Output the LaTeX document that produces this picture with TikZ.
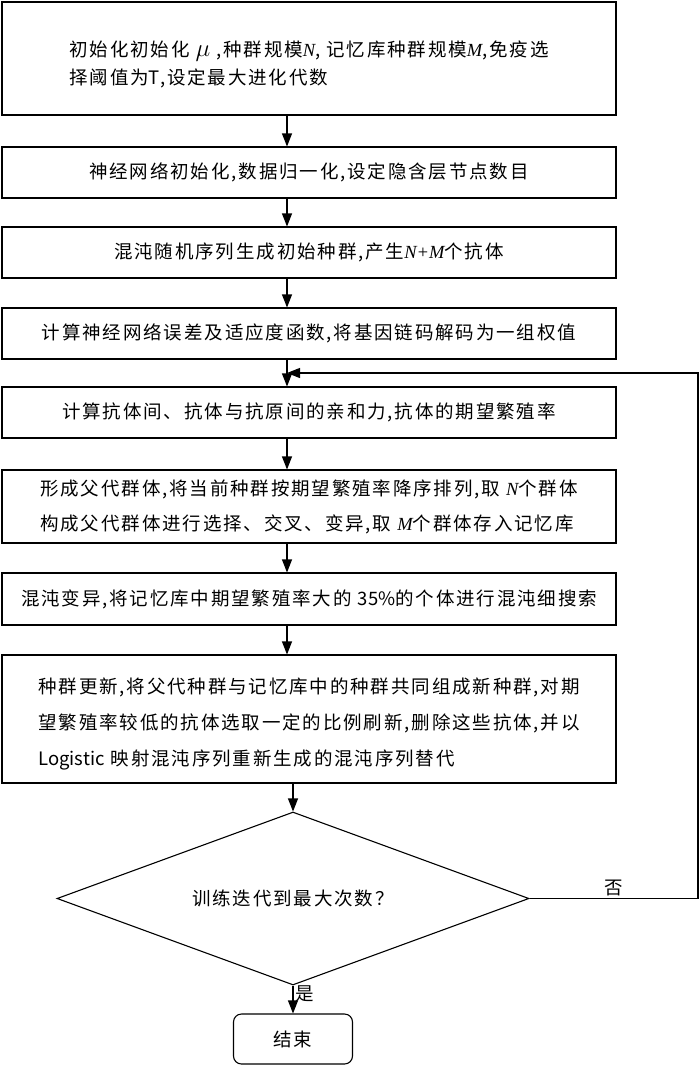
\documentclass[tikz,border=0pt]{standalone}
\usepackage{fontspec}
\setmainfont[LetterSpace=10]{Noto Sans CJK SC}
\newfontfamily\tms{Liberation Serif}
\usetikzlibrary{arrows.meta,shapes.geometric}
\newcommand{\vN}{{\tms\itshape N}}
\newcommand{\vM}{{\tms\itshape M}}
\newcommand{\plain}[1]{{\addfontfeature{LetterSpace=0}#1}}
\begin{document}
\begin{tikzpicture}[x=1pt,y=-1pt,
  box/.style={draw, line width=1.1pt, minimum width=614pt, inner sep=0pt,
    font=\fontsize{18.5}{20}\selectfont, align=center},
  arr/.style={line width=1.1pt, -{Triangle[length=13pt,width=10pt]}},
  lbl/.style={font=\fontsize{18.5}{20}\selectfont, inner sep=2pt}]
\useasboundingbox (0,0) rectangle (700,1065);
\coordinate (ax) at (287,0);
\coordinate (bx) at (293,0);
\coordinate (rx) at (698,0);
\coordinate (ly) at (0,373);

\node[box, minimum height=113pt, align=left, font=\fontsize{18.5}{28}\selectfont] (b1) at (309,58.5)
  {\rule{0pt}{27pt}初始化初始化 {\fontsize{26}{26}\selectfont$\mu$} ,种群规模\vN, 记忆库种群规模\vM,免疫选\\择阈值为\plain{T},设定最大进化代数};
\node[box, minimum height=51pt] (b2) at (309,172.5) {神经网络初始化,数据归一化,设定隐含层节点数目};
\node[box, minimum height=51pt] (b3) at (309,252.5) {混沌随机序列生成初始种群,产生{\tms\itshape N+M}个抗体};
\node[box, minimum height=51pt] (b4) at (309,333.5) {计算神经网络误差及适应度函数,将基因链码解码为一组权值};
\node[box, minimum height=51pt] (b5) at (309,412.5) {计算抗体间、抗体与抗原间的亲和力,抗体的期望繁殖率};
\node[box, minimum height=73pt, align=left, font=\fontsize{18.5}{35}\selectfont] (b6) at (309,506.5)
  {形成父代群体,将当前种群按期望繁殖率降序排列,取 \vN 个群体\\构成父代群体进行选择、交叉、变异,取 \vM 个群体存入记忆库};
\node[box, minimum height=52pt] (b7) at (309,599) {混沌变异,将记忆库中期望繁殖率大的 \plain{35\%}的个体进行混沌细搜索};
\node[box, minimum height=128pt, align=left, font=\fontsize{18.5}{36}\selectfont] (b8) at (309,719)
  {\rule{0pt}{26pt}种群更新,将父代种群与记忆库中的种群共同组成新种群,对期\\望繁殖率较低的抗体选取一定的比例刷新,删除这些抗体,并以\\\plain{Logistic} 映射混沌序列重新生成的混沌序列替代};
\node[draw, diamond, aspect=2.73, line width=1.1pt, minimum width=472pt, minimum height=173pt, inner sep=0pt,
  font=\fontsize{18.5}{20}\selectfont] (d) at (293,898.5) {训练迭代到最大次数？};
\node[draw, line width=1.1pt, rounded corners=8pt, minimum width=119pt, minimum height=50pt,
  font=\fontsize{18.5}{20}\selectfont] (e) at (293,1039) {结束};

\draw[arr] (b1.south -| ax) -- (b2.north -| ax);
\draw[arr] (b2.south -| ax) -- (b3.north -| ax);
\draw[arr] (b3.south -| ax) -- (b4.north -| ax);
\draw[arr] (b4.south -| ax) -- (b5.north -| ax);
\draw[arr] (b5.south -| ax) -- (b6.north -| ax);
\draw[arr] (b6.south -| ax) -- (b7.north -| ax);
\draw[arr] (b7.south -| ax) -- (b8.north -| ax);
\draw[arr] (b8.south -| bx) -- (d.north);
\draw[arr] (d.south) -- (e.north) node[lbl, pos=0.3, right] {是};
\draw[arr] (d.east) -- (d.east -| rx) node[lbl, pos=0.5, above] {否}
  -- (rx |- ly) -- (ax |- ly);
\end{tikzpicture}
\end{document}
